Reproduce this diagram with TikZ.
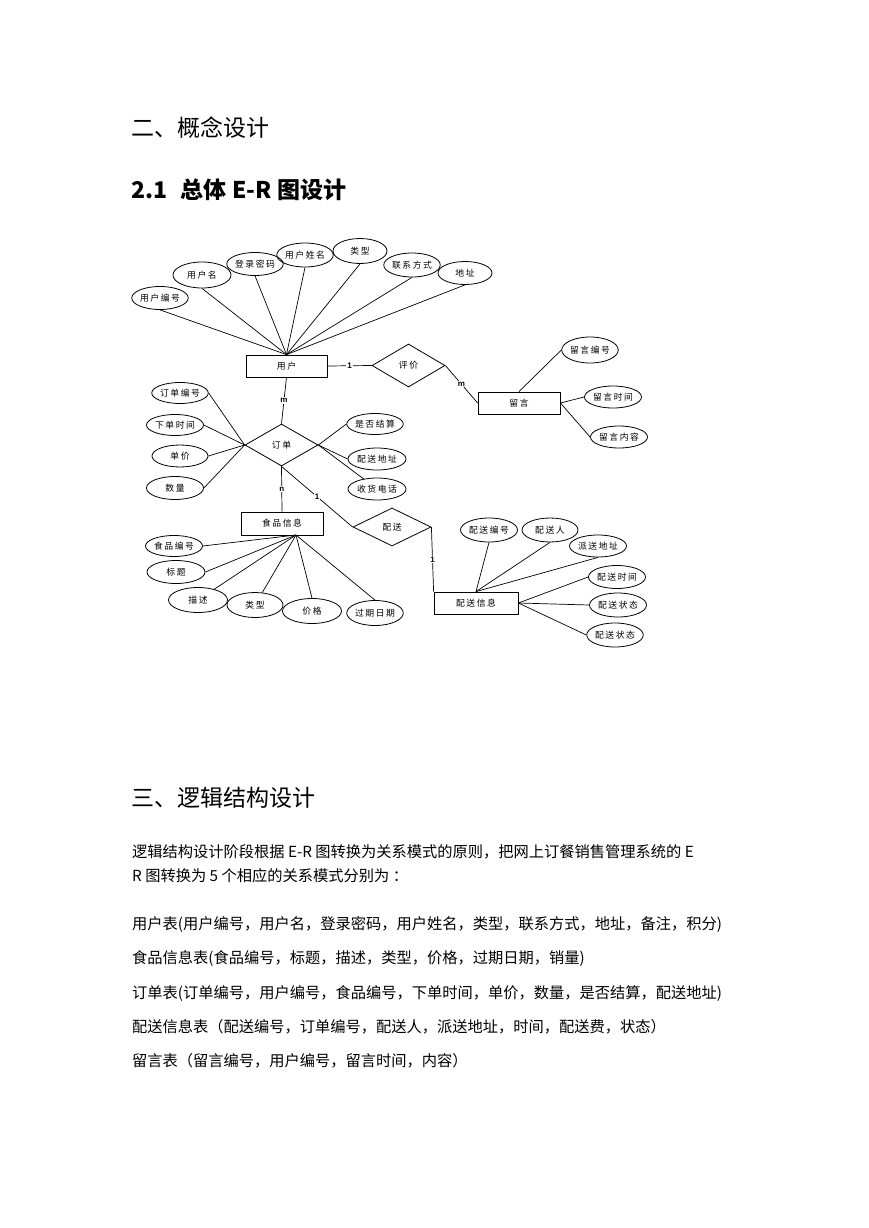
\documentclass[tikz,border=0pt]{standalone}
\usepackage{fontspec}
\setmainfont{Noto Sans CJK SC}
\newfontfamily\erfont{Noto Sans CJK SC}[LetterSpace=18]
\newfontfamily\cardfont{Liberation Sans}
\usetikzlibrary{shapes.geometric}
\begin{document}
\begin{tikzpicture}[x=1pt,y=-1pt,
  erfnt/.style={font={\erfont\fontsize{8.8}{10}\selectfont}},
  ent/.style={draw, line width=0.8pt, rectangle, minimum width=82, minimum height=22, inner sep=0, erfnt},
  attr/.style={draw, ellipse, line width=0.8pt, minimum width=56, minimum height=23, inner sep=0, erfnt},
  rel/.style={draw, diamond, line width=0.8pt, minimum width=73, minimum height=43, inner sep=0, erfnt},
  conn/.style={line width=0.7pt},
  card/.style={fill=white, inner sep=1pt, font={\cardfont\bfseries\fontsize{8}{9}\selectfont}},
  txt/.style={anchor=west, inner sep=0},
  body/.style={txt, font={\fontsize{15.25}{18}\selectfont}}
]
\useasboundingbox[fill=white] (0,0) rectangle (869,1228);

% headings
\node[txt, font={\fontsize{23}{27}\selectfont}] (h1) at (131,128) {二、概念设计};
\node[txt, font={\bfseries\fontsize{23}{27}\selectfont}] (h2) at (131,190) {2.1\hspace{13pt}总体\hspace{6pt}E-R\hspace{6pt}图设计};
\node[txt, font={\fontsize{23}{27}\selectfont}] (h3) at (131,798) {三、逻辑结构设计};

% body
\node[body] (b1) at (132,852) {逻辑结构设计阶段根据 E-R 图转换为关系模式的原则，把网上订餐销售管理系统的 E};
\node[body] (b2) at (132,876) {R 图转换为 5 个相应的关系模式分别为 ：};
\node[body] (b3) at (132,925) {用户表(用户编号，用户名，登录密码，用户姓名，类型，联系方式，地址，备注，积分)};
\node[body] (b4) at (132,959) {食品信息表(食品编号，标题，描述，类型，价格，过期日期，销量)};
\node[body] (b5) at (132,994) {订单表(订单编号，用户编号，食品编号，下单时间，单价，数量，是否结算，配送地址)};
\node[body] (b6) at (132,1027) {配送信息表（配送编号，订单编号，配送人，派送地址，时间，配送费，状态）};
\node[body] (b7) at (132,1061) {留言表（留言编号，用户编号，留言时间，内容）};

% entities
\node[ent, minimum width=81] (user) at (286.5,366) {用户};
\node[ent] (msg) at (519,403) {留言};
\node[ent, minimum height=23] (food) at (282,523.5) {食品信息};
\node[ent, minimum width=84] (deliv) at (476,603) {配送信息};

% relationships
\node[rel] (eval) at (408.5,365.5) {评价};
\node[rel, minimum height=42] (order) at (281.5,445) {订单};
\node[rel, minimum width=78, minimum height=38] (ship) at (392,527) {配送};

% user attributes
\node[attr] (u1) at (160,298) {用户编号};
\node[attr, minimum width=58, minimum height=26] (u2) at (202,275) {用户名};
\node[attr] (u3) at (255,264) {登录密码};
\node[attr, minimum height=24] (u4) at (305,255) {用户姓名};
\node[attr, minimum width=54, minimum height=25] (u5) at (360,251) {类型};
\node[attr, minimum width=52, minimum height=24] (u6) at (412,265) {联系方式};
\node[attr, minimum width=54] (u7) at (465,273) {地址};
\foreach \a in {u1,u2,u3,u4,u5,u6,u7} \draw[conn] (\a.south) -- (user.north);

% order attributes
\node[attr, minimum height=21] (o1) at (180,393) {订单编号};
\node[attr, minimum width=57, minimum height=21] (o2) at (175,425) {下单时间};
\node[attr, minimum height=22] (o3) at (180,456) {单价};
\node[attr, minimum width=57] (o4) at (175,488) {数量};
\node[attr, minimum height=21] (o5) at (375,424) {是否结算};
\node[attr, minimum width=58, minimum height=22] (o6) at (377,459) {配送地址};
\node[attr, minimum width=58, minimum height=22] (o7) at (377,489) {收货电话};
\foreach \a in {o1,o2,o3,o4} \draw[conn] (\a.east) -- (order.west);
\draw[conn] (o5.west) -- (order.east);
\draw[conn] (o6.west) -- (order.east);
\draw[conn] (o7) -- (order.east);

% message attributes
\node[attr, minimum height=26] (m1) at (590,350) {留言编号};
\node[attr, minimum width=57, minimum height=22] (m2) at (613,397) {留言时间};
\node[attr, minimum width=57, minimum height=22] (m3) at (619,437) {留言内容};
\draw[conn] (m1.west) -- (msg.north);
\draw[conn] (m2.west) -- (msg.east);
\draw[conn] (m3.west) -- (msg.east);

% food attributes
\coordinate (fc) at (296,535);
\node[attr, minimum width=57, minimum height=21] (f1) at (174,546) {食品编号};
\node[attr, minimum width=58] (f2) at (176,572) {标题};
\node[attr, minimum width=59, minimum height=25] (f3) at (198,600) {描述};
\node[attr, minimum height=25] (f4) at (255,605) {类型};
\node[attr, minimum width=59, minimum height=25] (f5) at (312,611) {价格};
\node[attr, minimum height=25] (f6) at (375,613) {过期日期};
\draw[conn] (f1.east) -- (fc);
\draw[conn] (f2.east) -- (fc);
\draw[conn] (f3) -- (fc);
\draw[conn] (f4) -- (fc);
\draw[conn] (f5.north) -- (fc);
\draw[conn] (f6.north) -- (fc);

% delivery attributes
\node[attr, minimum width=57, minimum height=24] (d1) at (489,530) {配送编号};
\node[attr, minimum height=24] (d2) at (550,530) {配送人};
\node[attr, minimum width=57, minimum height=22] (d3) at (598,546) {派送地址};
\node[attr, minimum width=57] (d4) at (617,577) {配送时间};
\node[attr, minimum width=57, minimum height=24] (d5) at (618,605) {配送状态};
\node[attr, minimum height=24] (d6) at (615,635) {配送状态};
\foreach \a in {d1,d2,d3} \draw[conn] (\a.south) -- (deliv.north);
\foreach \a in {d4,d5,d6} \draw[conn] (\a.west) -- (deliv.east);

% relationship connectors
\draw[conn] (user.east) -- node[card] {1} (eval.west);
\draw[conn] (eval.east) -- node[card] {m} (msg.west);
\draw[conn] (user.south) -- node[card] {m} (order.north);
\draw[conn] (order.south) -- node[card] {n} (food.north);
\draw[conn] (order.south) -- node[card] {1} (ship.west);
\draw[conn] (ship.east) -- node[card] {1} (deliv.north west);
\end{tikzpicture}
\end{document}
